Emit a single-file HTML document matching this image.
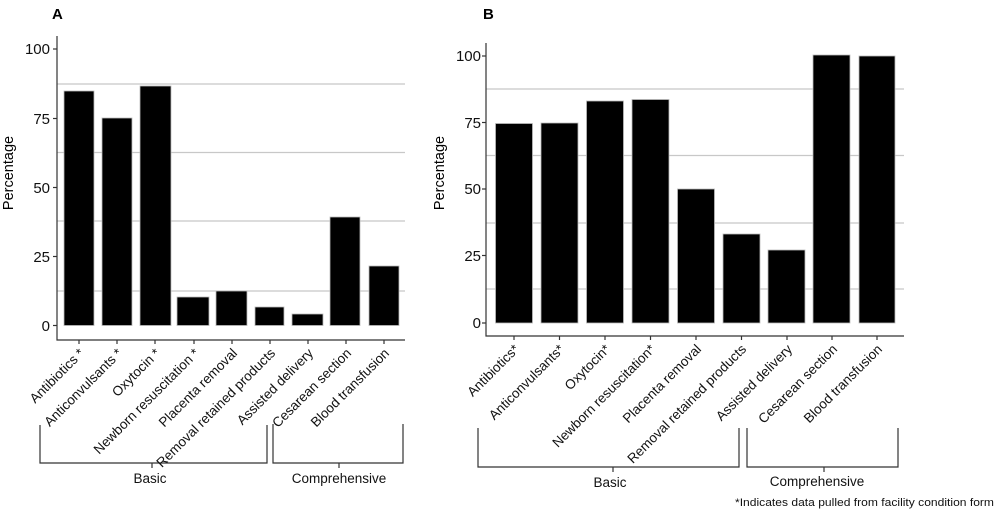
<!DOCTYPE html>
<html><head><meta charset="utf-8"><style>
html,body{margin:0;padding:0;background:#fff;}
svg{display:block;font-family:"Liberation Sans",Arial,sans-serif;}
</style></head><body>
<svg width="1000" height="512" viewBox="0 0 1000 512" xmlns="http://www.w3.org/2000/svg">
<!-- Panel A -->
<text x="52" y="19" font-size="15" font-weight="bold">A</text>
<g stroke="#c8c8c8" stroke-width="1.3">
<line x1="57" x2="405" y1="84" y2="84"/><line x1="57" x2="405" y1="152.5" y2="152.5"/>
<line x1="57" x2="405" y1="221" y2="221"/><line x1="57" x2="405" y1="291" y2="291"/>
</g>
<g fill="#000" stroke="#bbb" stroke-width="0.8">
<rect x="64" y="91" width="30" height="234.5"/>
<rect x="102" y="118" width="30" height="207.5"/>
<rect x="140" y="86" width="31" height="239.5"/>
<rect x="177" y="297" width="32" height="28.5"/>
<rect x="216" y="291" width="31" height="34.5"/>
<rect x="255" y="307" width="29" height="18.5"/>
<rect x="292" y="314" width="31" height="11.5"/>
<rect x="330" y="217" width="30" height="108.5"/>
<rect x="369" y="266" width="30" height="59.5"/>
</g>
<g stroke="#333" stroke-width="1.2" fill="none">
<polyline points="57,36 57,340 405,340"/>
<line x1="53" x2="57" y1="49" y2="49"/><line x1="53" x2="57" y1="118.5" y2="118.5"/>
<line x1="53" x2="57" y1="187.5" y2="187.5"/><line x1="53" x2="57" y1="256.5" y2="256.5"/>
<line x1="53" x2="57" y1="325.5" y2="325.5"/>
<line x1="79" x2="79" y1="340" y2="344"/><line x1="117" x2="117" y1="340" y2="344"/>
<line x1="155" x2="155" y1="340" y2="344"/><line x1="194" x2="194" y1="340" y2="344"/>
<line x1="232" x2="232" y1="340" y2="344"/><line x1="270" x2="270" y1="340" y2="344"/>
<line x1="308" x2="308" y1="340" y2="344"/><line x1="346" x2="346" y1="340" y2="344"/>
<line x1="384" x2="384" y1="340" y2="344"/>
<polyline points="40,425 40,463 267,463 267,425"/><line x1="152" x2="152" y1="463" y2="468"/>
<polyline points="273,424 273,463 403,463 403,424"/><line x1="339" x2="339" y1="463" y2="468"/>
</g>
<g font-size="15" text-anchor="end" fill="#111">
<text x="50" y="54">100</text><text x="50" y="124">75</text><text x="50" y="193">50</text>
<text x="50" y="262">25</text><text x="50" y="331">0</text>
</g>
<text transform="translate(13,173) rotate(-90)" font-size="14.5" text-anchor="middle">Percentage</text>
<g font-size="13.5" text-anchor="end" fill="#111">
<text transform="translate(85,354) rotate(-45)">Antibiotics *</text>
<text transform="translate(123,354) rotate(-45)">Anticonvulsants *</text>
<text transform="translate(161,354) rotate(-45)">Oxytocin *</text>
<text transform="translate(200,354) rotate(-45)">Newborn resuscitation *</text>
<text transform="translate(238,354) rotate(-45)">Placenta removal</text>
<text transform="translate(276,354) rotate(-45)">Removal retained products</text>
<text transform="translate(314,354) rotate(-45)">Assisted delivery</text>
<text transform="translate(352,354) rotate(-45)">Cesarean section</text>
<text transform="translate(390,354) rotate(-45)">Blood transfusion</text>
</g>
<g font-size="13.5" text-anchor="middle" fill="#111">
<text x="150" y="483">Basic</text><text x="339" y="483">Comprehensive</text>
</g>

<!-- Panel B -->
<text x="483" y="19" font-size="15" font-weight="bold">B</text>
<g stroke="#c8c8c8" stroke-width="1.3">
<line x1="486" x2="904" y1="89" y2="89"/><line x1="486" x2="904" y1="155.5" y2="155.5"/>
<line x1="486" x2="904" y1="223" y2="223"/><line x1="486" x2="904" y1="289" y2="289"/>
</g>
<g fill="#000" stroke="#bbb" stroke-width="0.8">
<rect x="495.5" y="123.5" width="37" height="199.5"/>
<rect x="541" y="123" width="37" height="200"/>
<rect x="586.5" y="101" width="37" height="222"/>
<rect x="632" y="99.5" width="37" height="223.5"/>
<rect x="677.5" y="189" width="37" height="134"/>
<rect x="723" y="234" width="37" height="89"/>
<rect x="768" y="250" width="37" height="73"/>
<rect x="813" y="55" width="37" height="268"/>
<rect x="859" y="56" width="36" height="267"/>
</g>
<g stroke="#333" stroke-width="1.2" fill="none">
<polyline points="486,43 486,336 904,336"/>
<line x1="482" x2="486" y1="56" y2="56"/><line x1="482" x2="486" y1="122.5" y2="122.5"/>
<line x1="482" x2="486" y1="189" y2="189"/><line x1="482" x2="486" y1="255.5" y2="255.5"/>
<line x1="482" x2="486" y1="323" y2="323"/>
<line x1="514" x2="514" y1="336" y2="340"/><line x1="559.5" x2="559.5" y1="336" y2="340"/>
<line x1="605" x2="605" y1="336" y2="340"/><line x1="650.5" x2="650.5" y1="336" y2="340"/>
<line x1="696" x2="696" y1="336" y2="340"/><line x1="741.5" x2="741.5" y1="336" y2="340"/>
<line x1="787" x2="787" y1="336" y2="340"/><line x1="832" x2="832" y1="336" y2="340"/>
<line x1="877" x2="877" y1="336" y2="340"/>
<polyline points="478,428 478,467 739,467 739,428"/><line x1="613" x2="613" y1="467" y2="472"/>
<polyline points="747,428 747,467 898,467 898,428"/><line x1="824" x2="824" y1="467" y2="472"/>
</g>
<g font-size="15" text-anchor="end" fill="#111">
<text x="481" y="61">100</text><text x="481" y="128">75</text><text x="481" y="194">50</text>
<text x="481" y="261">25</text><text x="481" y="328">0</text>
</g>
<text transform="translate(444,173) rotate(-90)" font-size="14.5" text-anchor="middle">Percentage</text>
<g font-size="13.5" text-anchor="end" fill="#111">
<text transform="translate(520,350) rotate(-45)">Antibiotics*</text>
<text transform="translate(565,350) rotate(-45)">Anticonvulsants*</text>
<text transform="translate(611,350) rotate(-45)">Oxytocin*</text>
<text transform="translate(656,350) rotate(-45)">Newborn resuscitation*</text>
<text transform="translate(702,350) rotate(-45)">Placenta removal</text>
<text transform="translate(747,350) rotate(-45)">Removal retained products</text>
<text transform="translate(793,350) rotate(-45)">Assisted delivery</text>
<text transform="translate(838,350) rotate(-45)">Cesarean section</text>
<text transform="translate(883,350) rotate(-45)">Blood transfusion</text>
</g>
<g font-size="13.5" text-anchor="middle" fill="#111">
<text x="610" y="487">Basic</text><text x="817" y="486">Comprehensive</text>
</g>
<text x="735" y="506" font-size="11" textLength="259" lengthAdjust="spacingAndGlyphs" fill="#111">*Indicates data pulled from facility condition form</text>
</svg>
</body></html>
